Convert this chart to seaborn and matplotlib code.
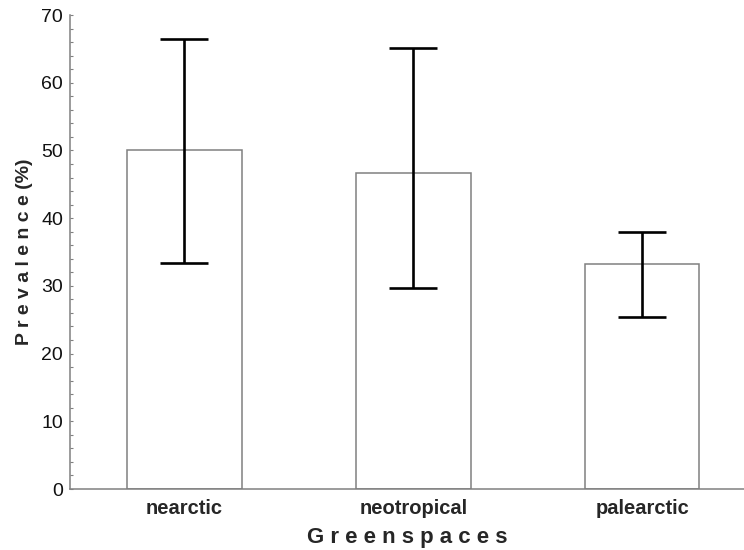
import numpy as np
import pandas as pd
import matplotlib
matplotlib.use('Agg')
import matplotlib.pyplot as plt
from matplotlib.ticker import MultipleLocator
import seaborn as sns

sns.set_style("white")
plt.rcParams['font.family'] = ['Liberation Sans', 'DejaVu Sans']

# data
regions = ['nearctic', 'neotropical', 'palearctic']
prevalence = [50.0, 46.7, 33.3]
ci_low = [33.4, 29.7, 25.4]
ci_high = [66.5, 65.1, 37.9]

df = pd.DataFrame({'Region': regions, 'Prevalence': prevalence})

fig = plt.figure(figsize=(7.44, 5.5), dpi=100)
ax = fig.add_axes([70 / 744, 1 - 489 / 550, 1 - 70 / 744, (489 - 15) / 550])

sns.barplot(data=df, x='Region', y='Prevalence', color='white', width=0.5,
            edgecolor='#808080', linewidth=1.1, errorbar=None, ax=ax)

yerr = np.array([np.array(prevalence) - np.array(ci_low),
                 np.array(ci_high) - np.array(prevalence)])
ax.errorbar(np.arange(len(regions)), prevalence, yerr=yerr, fmt='none',
            ecolor='black', elinewidth=1.9, capsize=17.3, capthick=1.9)

ax.set_ylim(0, 70)
ax.set_xlim(-0.5, 2.445)
ax.yaxis.set_major_locator(MultipleLocator(10))
ax.yaxis.set_minor_locator(MultipleLocator(2))
ax.tick_params(axis='y', which='both', direction='in', length=2.5, width=0.8,
               color='#808080', left=True, labelsize=14, labelcolor='#111111', pad=5)
ax.tick_params(axis='x', bottom=False, labelsize=14.5, pad=4)
for lab in ax.get_xticklabels():
    lab.set_fontweight('bold')

for s in ['top', 'right']:
    ax.spines[s].set_visible(False)
for s in ['left', 'bottom']:
    ax.spines[s].set_color('#808080')
    ax.spines[s].set_linewidth(1.1)

ax.set_xlabel('G r e e n s p a c e s', fontsize=16, fontweight='bold', labelpad=6)
ax.set_ylabel('P r e v a l e n c e (%)', fontsize=14, fontweight='bold', labelpad=6)

fig.savefig('out.png', dpi=100)
